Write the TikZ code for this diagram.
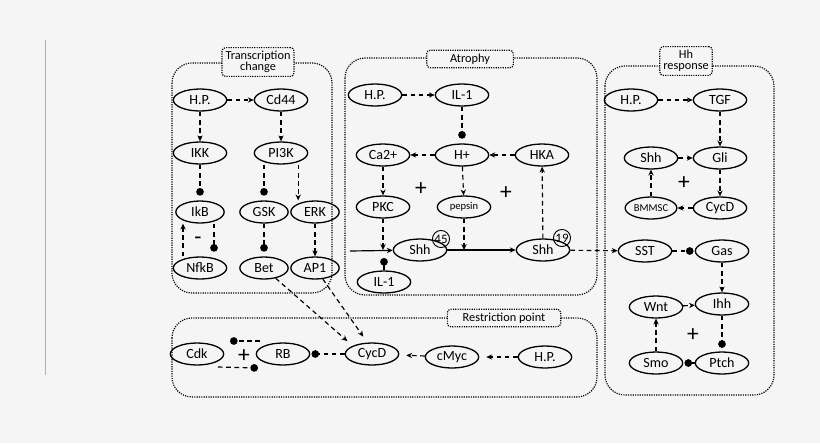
\documentclass[tikz,border=0pt]{standalone}
\usepackage{fontspec}
\setmainfont{Carlito}
\usetikzlibrary{shapes.geometric,arrows.meta}
\definecolor{bg}{HTML}{F5F5F5}
\tikzset{
  prot/.style={ellipse,draw,line width=1.1pt,minimum width=1.6cm,minimum height=0.66cm,inner sep=1pt,font=\fontsize{12}{13}\selectfont},
  act/.style={line width=1pt,dash pattern=on 4pt off 3pt,-{Stealth[length=5pt,width=4.5pt]}},
  inh/.style={line width=1pt,dash pattern=on 4pt off 3pt,-{Circle[length=6.5pt]}},
  pro/.style={line width=1pt,-{Stealth[length=5pt,width=4.5pt]}},
  group/.style={draw,densely dotted,line width=1pt,rounded corners=0.6cm},
  title/.style={draw,densely dotted,line width=1pt,rounded corners=3pt,fill=bg,align=center,font=\fontsize{10.5}{10.5}\selectfont,inner sep=3pt},
  num/.style={circle,draw,thick,inner sep=0.5pt,minimum size=0.5cm,font=\fontsize{11}{11}\selectfont},
  plus/.style={font=\fontsize{20}{20}\selectfont}
}
\begin{document}
\begin{tikzpicture}[x=0.03cm,y=-0.03cm]
  \fill[bg] (0,0) rectangle (820,443);
  \draw[gray!60] (45,40) -- (45,375);

  % boxes
  \draw[group] (172,63) rectangle (332,293);
  \draw[group] (345,58) rectangle (597,295);
  \draw[group] (605,66) rectangle (774,395);
  \draw[group] (172,318) rectangle (597,397);
  \node[title] at (258,62) {Transcription\\[-1pt]change};
  \node[title,minimum width=2.6cm] at (470,59) {Atrophy};
  \node[title] at (686,61) {Hh\\[-1pt]response};
  \node[title,minimum width=3.4cm] at (504,318) {Restriction point};

  % transcription change
  \node[prot] (hp1) at (200,100) {H.P.};
  \node[prot] (cd44) at (281,100) {Cd44};
  \node[prot] (ikk) at (200,153) {IKK};
  \node[prot] (pi3k) at (281,153) {PI3K};
  \node[prot,minimum width=1.45cm] (ikb) at (200,212) {IkB};
  \node[prot,minimum width=1.45cm] (gsk) at (264,212) {GSK};
  \node[prot,minimum width=1.45cm] (erk) at (315,212) {ERK};
  \node[prot] (nfkb) at (200,268) {NfkB};
  \node[prot,minimum width=1.45cm] (bet) at (264,268) {Bet};
  \node[prot,minimum width=1.45cm] (ap1) at (315,268) {AP1};
  \draw[act] (hp1) -- (cd44);
  \draw[act] (hp1) -- (ikk);
  \draw[act] (cd44) -- (pi3k);
  \draw[inh,shorten >=4pt] (ikk) -- (ikb);
  \draw[inh,shorten >=4pt] (pi3k.south-|gsk) -- (gsk);
  \draw[act] (pi3k.south-|erk.west) ++(8,0) coordinate (e0) -- (e0|-erk.north);
  \draw[inh,shorten >=4pt] (gsk) -- (bet);
  \draw[act] (erk) -- (ap1);
  \draw[act] (nfkb.north-|183,0) -- (ikb.south-|183,0);
  \draw[inh,shorten >=4pt] (ikb.south-|214,0) -- (nfkb.north-|214,0);
  \node[plus] at (198,241) {-};

  % atrophy
  \node[prot] (hp2) at (375,95) {H.P.};
  \node[prot] (il1a) at (462,95) {IL-1};
  \node[prot] (hplus) at (462,155) {H+};
  \node[prot] (ca) at (383,155) {Ca2+};
  \node[prot] (hka) at (542,155) {HKA};
  \node[prot] (pkc) at (383,207) {PKC};
  \node[prot,font=\fontsize{9}{10}\selectfont] (pepsin) at (464,207) {pepsin};
  \node[prot] (shh45) at (420,250) {Shh};
  \node[num] at (441,239) {45};
  \node[prot] (shh19) at (543,250) {Shh};
  \node[num] at (562,238) {19};
  \node[prot] (il1b) at (384,282) {IL-1};
  \coordinate (in) at (350,251);
  \coordinate (blk) at (384,258);
  \draw[act] (hp2) -- (il1a);
  \draw[inh,shorten >=4pt] (il1a) -- (hplus);
  \draw[act] (hplus) -- (ca);
  \draw[act] (hka) -- (hplus);
  \draw[act] (ca) -- (pkc);
  \draw[act] (hplus) -- (pepsin);
  \draw[pro] (in) -- (shh45);
  \draw[pro] (shh45) -- (shh19);
  \draw[act] (pkc) -- (pkc.south|-shh45.west);
  \draw[act] (pepsin) -- (pepsin.south|-shh45.east);
  \draw[line width=1pt,-{Circle[length=6.5pt]}] (il1b) -- (blk);
  \draw[act] (shh19) -- (hka);
  \node[plus] at (421,189) {+};
  \node[plus] at (506,193) {+};

  % Hh response
  \node[prot] (hp3) at (631,100) {H.P.};
  \node[prot] (tgf) at (720,100) {TGF};
  \node[prot] (shh3) at (651,158) {Shh};
  \node[prot] (gli) at (720,158) {Gli};
  \node[prot,font=\fontsize{9}{10}\selectfont,minimum width=1.4cm] (bmmsc) at (651,208) {BMMSC};
  \node[prot] (cycd3) at (720,208) {CycD};
  \node[prot] (sst) at (645,251) {SST};
  \node[prot] (gas) at (722,251) {Gas};
  \node[prot] (wnt) at (656,307) {Wnt};
  \node[prot] (ihh) at (722,304) {Ihh};
  \node[prot] (smo) at (656,363) {Smo};
  \node[prot] (ptch) at (722,363) {Ptch};
  \draw[act] (hp3) -- (tgf);
  \draw[act] (tgf) -- (gli);
  \draw[act] (shh3) -- (gli);
  \draw[act] (gli) -- (cycd3);
  \draw[act] (cycd3) -- (bmmsc);
  \draw[act] (bmmsc) -- (shh3);
  \draw[act] (shh19) -- (sst);
  \draw[inh,shorten >=1pt] (sst) -- (gas);
  \draw[act] (gas) -- (ihh);
  \draw[inh,shorten >=3pt] (ihh) -- (ptch);
  \draw[inh,shorten >=1pt] (ptch) -- (smo);
  \draw[act] (smo) -- (wnt);
  \draw[act] (wnt) -- (ihh);
  \node[plus] at (684,183) {+};
  \node[plus] at (693,335) {+};

  % restriction point
  \node[prot] (cdk) at (197,354) {Cdk};
  \node[prot] (rb) at (283,354) {RB};
  \node[prot] (cycd) at (372,354) {CycD};
  \node[prot] (cmyc) at (452,357) {cMyc};
  \node[prot] (hp4) at (545,357) {H.P.};
  \coordinate (c1) at (260,341);
  \coordinate (c2) at (230,341);
  \coordinate (c3) at (218,367);
  \coordinate (c4) at (258,368);
  \draw[inh] (c1) -- (c2);
  \draw[inh] (c3) -- (c4);
  \draw[inh,shorten >=1pt] (cycd) -- (rb);
  \draw[act,shorten >=6pt] (cmyc) -- (cycd);
  \draw[act,shorten >=6pt] (hp4) -- (cmyc);
  \draw[act,shorten >=6pt] (bet) -- (cycd.north west);
  \draw[act,shorten >=6pt] (ap1) -- ([xshift=-4pt]cycd.north);
  \node[plus] at (244,356) {+};
\end{tikzpicture}
\end{document}
